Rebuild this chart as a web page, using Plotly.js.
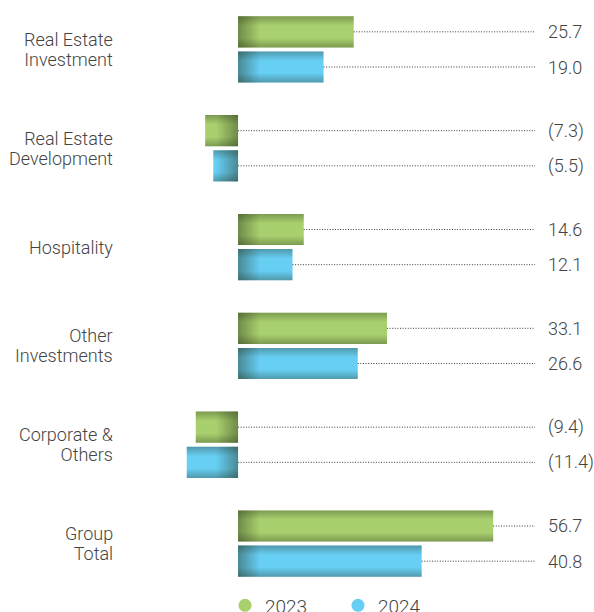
<!DOCTYPE html>
<html>
<head>
<meta charset="utf-8">
<script src="https://cdn.plot.ly/plotly-3.0.1.min.js"></script>
<style>html,body{margin:0;padding:0;background:#fff}#chart{width:594px;height:612px}</style>
</head>
<body>
<div id="chart"></div>
<script>
const categories = ["Real Estate<br>Investment", "Real Estate<br>Development", "Hospitality", "Other<br>Investments", "Corporate &<br>Others", "Group<br>Total"];
const values2023 = [25.7, -7.3, 14.6, 33.1, -9.4, 56.7];
const values2024 = [19.0, -5.5, 12.1, 26.6, -11.4, 40.8];
const seriesNames = ["2023", "2024"];

const idx = categories.map((_, i) => i);
const OFF = 0.178, BW = 0.315, LEADER_END = 66;
const fmt = v => v < 0 ? "(" + Math.abs(v).toFixed(1) + ")" : v.toFixed(1);

const green = "#a9d06f", blue = "#67cef4";
const textCol = "#444444";
const FAM = "Roboto, Liberation Sans, Arial, sans-serif";
const font = {family: FAM, size: 18, color: textCol, weight: 300};

function barTrace(vals, off, color) {
  return {type: "bar", orientation: "h", x: vals, y: idx.map(i => i + off), width: BW,
    marker: {color: color, line: {width: 0}}, showlegend: false, hoverinfo: "skip"};
}
function leaderTrace(vals, off) {
  const x = [], y = [];
  vals.forEach((v, i) => { x.push(Math.max(v, 0), LEADER_END, null); y.push(i + off, i + off, null); });
  return {type: "scatter", mode: "lines", x: x, y: y, line: {color: "#3a3a3a", width: 1, dash: "1px,1.6px"},
    showlegend: false, hoverinfo: "skip"};
}
function legendTrace(name, color) {
  return {type: "scatter", mode: "markers", x: [null], y: [null], name: name,
    marker: {symbol: "circle", color: color, size: 13}};
}

const traces = [
  leaderTrace(values2023, -OFF), leaderTrace(values2024, OFF),
  barTrace(values2023, -OFF, green), barTrace(values2024, OFF, blue),
  legendTrace(seriesNames[0], green), legendTrace(seriesNames[1], blue)
];

const annotations = [];
categories.forEach((c, i) => annotations.push({xref: "paper", x: 115/594, xanchor: "right", y: i, yref: "y",
  yshift: c.includes("<br>") ? -1.5 : 0, text: c, align: "right", showarrow: false, font: font}));
values2023.forEach((v, i) => annotations.push({xref: "paper", x: 546/594, xanchor: "left", y: i - OFF, yref: "y",
  text: fmt(v), showarrow: false, font: font}));
values2024.forEach((v, i) => annotations.push({xref: "paper", x: 546/594, xanchor: "left", y: i + OFF, yref: "y",
  text: fmt(v), showarrow: false, font: font}));

const layout = {
  width: 594, height: 612,
  margin: {l: 0, r: 0, t: 0, b: 19, autoexpand: false},
  paper_bgcolor: "#fff", plot_bgcolor: "#fff",
  xaxis: {range: [-52.9, 79.1], visible: false, fixedrange: true},
  yaxis: {range: [5.5, -0.5], visible: false, fixedrange: true},
  barmode: "overlay",
  showlegend: true,
  legend: {orientation: "h", x: 225/594, xanchor: "left", y: 0.011, yanchor: "top",
    font: {family: FAM, size: 19, color: textCol, weight: 300},
    itemwidth: 30, entrywidth: 68, bgcolor: "rgba(0,0,0,0)"},
  annotations: annotations
};

Plotly.newPlot("chart", traces, layout, {staticPlot: true, displayModeBar: false}).then(gd => {
  // shading: darker toward the zero side and toward top/bottom edges
  const svg = gd.querySelector(".main-svg");
  const ns = "http://www.w3.org/2000/svg";
  const defs = document.createElementNS(ns, "defs");
  svg.insertBefore(defs, svg.firstChild);
  function stop(g, o, c, a) {
    const s = document.createElementNS(ns, "stop");
    s.setAttribute("offset", o); s.setAttribute("stop-color", c); s.setAttribute("stop-opacity", a);
    g.appendChild(s);
  }
  const vg = document.createElementNS(ns, "linearGradient");
  vg.setAttribute("id", "vshade"); vg.setAttribute("x1", "0"); vg.setAttribute("x2", "0");
  vg.setAttribute("y1", "0"); vg.setAttribute("y2", "1");
  stop(vg, 0, "#1e2a10", 0.32); stop(vg, 0.3, "#1e2a10", 0); stop(vg, 0.7, "#1e2a10", 0); stop(vg, 1, "#1e2a10", 0.32);
  defs.appendChild(vg);
  const vals = [values2023, values2024];
  let n = 0;
  gd.querySelectorAll(".barlayer .trace").forEach((t, k) => {
    t.querySelectorAll(".point path").forEach((p, i) => {
      const bb = p.getBBox();
      const neg = vals[k][i] < 0;
      const hg = document.createElementNS(ns, "linearGradient");
      const id = "hshade" + (n++);
      hg.setAttribute("id", id); hg.setAttribute("gradientUnits", "userSpaceOnUse");
      const z = neg ? bb.x + bb.width : bb.x;
      hg.setAttribute("x1", z); hg.setAttribute("x2", neg ? z - 22 : z + 22);
      hg.setAttribute("y1", 0); hg.setAttribute("y2", 0);
      stop(hg, 0, "#1e2a10", 0.42); stop(hg, 1, "#1e2a10", 0);
      defs.appendChild(hg);
      const c1 = p.cloneNode(); c1.style.fill = "url(#" + id + ")"; c1.style.stroke = "none"; c1.style.opacity = 1;
      const c2 = p.cloneNode(); c2.style.fill = "url(#vshade)"; c2.style.stroke = "none"; c2.style.opacity = 1;
      p.parentNode.appendChild(c1); p.parentNode.appendChild(c2);
    });
  });
  // slightly tighter line spacing for two-line category labels
  gd.querySelectorAll(".annotation-text tspan.line").forEach(ts => {
    if (ts.getAttribute("dy") === "1.3em") ts.setAttribute("dy", "1.12em");
  });
});
</script>
</body>
</html>
